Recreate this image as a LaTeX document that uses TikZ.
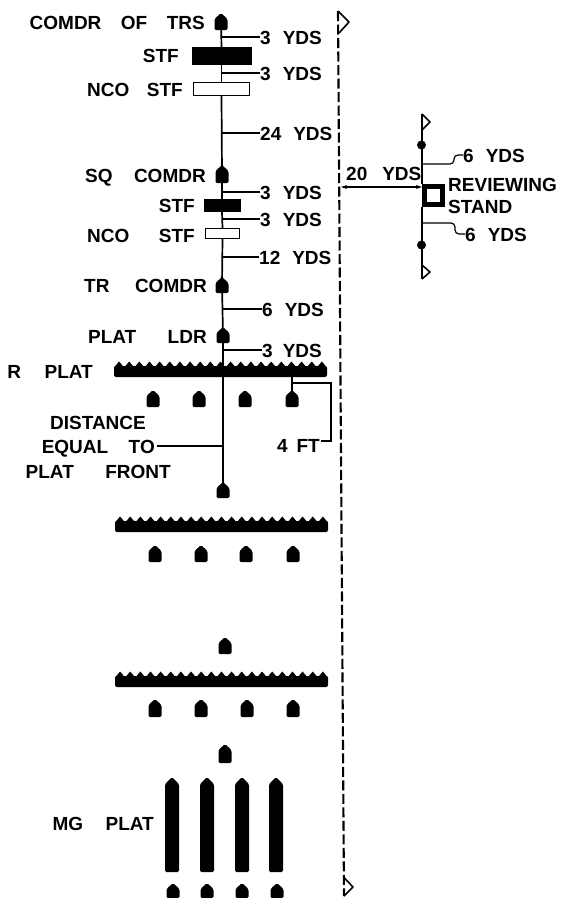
\documentclass[tikz,border=0pt]{standalone}
\usepackage{fontspec}
\setmainfont{Liberation Sans}
\usetikzlibrary{
    arrows.meta,
    positioning,
    calc
}
\newcommand{\gp}[1][0]{\hspace{\dimexpr9.2pt+#1pt\relax}}
\newcommand{\yg}{\hspace{12pt}}
% one man: house shape, #2 = x, #3 = top, #4 = bottom
\newcommand{\soldier}[4]{
  \fill[rounded corners=1.5pt] (#2-6.5,#4) -- (#2-6.5,#3+6) -- (#2,#3) -- (#2+6.5,#3+6) -- (#2+6.5,#4) -- cycle;
  \coordinate (#1) at (#2,{(#3+#4)/2});}
% line of men: #1 = x left, #2 = top
\newcommand{\platoon}[2]{
  \foreach \k in {0,...,20}
     {\fill (#1+\k*10.14,#2+6.5) -- ++(5.07,-6) -- ++(5.07,6) -- cycle;}
  \fill[rounded corners=2pt] (#1,#2+16) rectangle (#1+213,#2+5);}
\tikzset{
  lbl/.style={font=\bfseries\fontsize{19}{19}\selectfont,inner sep=0pt,text height=14pt,text depth=0pt},
  axisline/.style={line width=1.7pt},
  leader/.style={line width=1.2pt},
  pennant/.style={line width=1.6pt,line join=round},
  solidbox/.style={draw,fill=black,inner sep=0pt},
  openbox/.style={draw,fill=white,line width=1.2pt,inner sep=0pt}
}
\begin{document}
\begin{tikzpicture}[x=1pt,y=-1pt]
  \useasboundingbox (0,0) rectangle (562,898);
  % troop headquarters
  \soldier{comdr}{221}{13}{30}
  \node[solidbox,minimum width=59pt,minimum height=17pt] (stfa) at (221.5,55.5) {};
  \node[openbox,minimum width=56pt,minimum height=13pt] (ncoa) at (221.5,89) {};
  \soldier{sqc}{222}{165}{183}
  \node[solidbox,minimum width=36pt,minimum height=12pt] (stfb) at (222,205.5) {};
  \node[openbox,minimum width=34pt,minimum height=10pt] (ncob) at (222.5,233.5) {};
  \soldier{trc}{222}{277}{293}
  \soldier{ldr}{223}{327}{343}
  \node[lbl,anchor=east] (tcomdr) at (205,22) {COMDR\gp[5] OF\gp[5] TRS};
  \node[lbl,anchor=east] (tstfa) at (179,55) {STF};
  \node[lbl,anchor=east] (tncoa) at (183,89) {NCO\gp[3] STF};
  \node[lbl,anchor=east] (tsqc) at (206,175) {SQ\gp[7] COMDR};
  \node[lbl,anchor=east] (tstfb) at (195,205) {STF};
  \node[lbl,anchor=east] (tncob) at (195,235) {NCO\gp[15] STF};
  \node[lbl,anchor=east] (ttrc) at (207,285) {TR\gp[11] COMDR};
  \node[lbl,anchor=east] (tldr) at (207,336) {PLAT\gp[17] LDR};
  \node[lbl,anchor=east] (trp) at (93,371) {R\gp[9] PLAT};
  % yards
  \node[lbl,anchor=west] (ya) at (260,37) {3\yg YDS};
  \node[lbl,anchor=west] (yb) at (260,73) {3\yg YDS};
  \node[lbl,anchor=west] (yc) at (260,133) {24\yg YDS};
  \node[lbl,anchor=west] (yd) at (260,192) {3\yg YDS};
  \node[lbl,anchor=west] (ye) at (260,219) {3\yg YDS};
  \node[lbl,anchor=west] (yf) at (259,257) {12\yg YDS};
  \node[lbl,anchor=west] (yg) at (262,309) {6\yg YDS};
  \node[lbl,anchor=west] (yh) at (262,350) {3\hspace{10pt}YDS};
  % first platoon
  \platoon{114}{361}
  \foreach \i/\x in {a/153,b/199,c/245,d/292}
     {\soldier{ra\i}{\x}{390}{407}}
  \soldier{pc}{223}{482}{498}
  \coordinate (pf) at (223,377);
  \node[lbl,align=center] (tdist) at (98,422) {DISTANCE};
  \node[lbl,anchor=east] (tequal) at (155,446) {EQUAL\gp[6] TO};
  \node[lbl,anchor=east] (tfront) at (171,471) {PLAT\gp[17] FRONT};
  \node[lbl,anchor=east] (tft) at (320,445) {4\hspace{9pt}FT};
  \coordinate (ra) at (292,377);
  % second and third platoon
  \platoon{115}{516}
  \foreach \i/\x in {a/155,b/201,c/246,d/293}
     {\soldier{rb\i}{\x}{545}{562}}
  \soldier{sa}{225}{637}{654}
  \platoon{115}{671}
  \foreach \i/\x in {a/155,b/201,c/247,d/293}
     {\soldier{rc\i}{\x}{699}{717}}
  \soldier{sb}{225}{744}{763}
  % machine guns
  \foreach \i/\x in {a/172,b/207,c/242,d/276}
     {\fill[rounded corners=1.5pt] (\x-7,872) -- (\x-7,784) -- (\x,777) -- (\x+7,784) -- (\x+7,872) -- cycle;
      \coordinate (mg\i) at (\x,824);}
  \foreach \i/\x in {a/173,b/207,c/242,d/277}
     {\soldier{mh\i}{\x}{883}{898}}
  \node[lbl,anchor=east] (tmg) at (154,823) {MG\gp[8] PLAT};
  % axis
  \draw[axisline] (comdr) -- (stfa.north);
  \draw[axisline] (stfa.south) -- (ncoa.north);
  \draw[axisline] (ncoa.south) -- (sqc);
  \draw[axisline] (sqc) -- (stfb.north);
  \draw[axisline] (stfb.south) -- (ncob.north);
  \draw[axisline] (ncob.south) -- (trc);
  \draw[axisline] (trc) -- (ldr);
  \draw[axisline] (ldr) -- (pf);
  \draw[axisline] (pf) -- (pc);
  \draw[axisline] (ra) -- (rad);
  % leaders
  \foreach \n in {ya,yb,yc,yd,ye,yf}
     {\draw[leader] (\n.west) -- (\n.west -| sqc);}
  \foreach \n in {yg,yh}
     {\draw[leader] (\n.west) -- (\n.west -| ldr);}
  \draw[leader] (tequal.east) ++(2,0) -- (tequal.east -| pf);
  \coordinate (fa) at (292,383);
  \draw[leader] (fa) -- (331,383) -- (331,441) -- ($(tft.east)+(1,-4)$);
  % route of march
  \coordinate (rta) at (338,11);
  \coordinate (rtb) at (344,896);
  \draw[line width=2.1pt,dash pattern=on 10pt off 3.5pt] (rta) -- (rtb);
  \draw[pennant] (rta) -- (349,22) -- (339,33);
  \draw[pennant] (343.5,877) -- (353,887) -- (344,896);
  % reviewing stand
  \node[draw,line width=5pt,fill=white,minimum size=18pt,inner sep=0pt] (stand) at (433.5,195) {};
  \coordinate (sta) at (422,114);
  \coordinate (stb) at (422,279);
  \fill (421.5,145) circle (4.5);
  \fill (421.5,245) circle (4.5);
  \draw[axisline] (sta) -- (stand.north west);
  \draw[axisline] (stand.south west) -- (stb);
  \draw[pennant] (sta) -- (430,122) -- (422,130);
  \draw[pennant] (stb) -- (430,272) -- (422,265);
  \node[lbl,anchor=west] (six) at (463,155) {6\yg YDS};
  \node[lbl,anchor=west] (sev) at (465,234) {6\yg YDS};
  \node[lbl,anchor=west] (trev) at (448,184) {REVIEWING};
  \node[lbl,anchor=west] (tsta) at (448,206) {STAND};
  \node[lbl,anchor=west] (twen) at (346,173) {20\hspace{15pt}YDS};
  \coordinate (ua) at (422,164);
  \coordinate (ub) at (422,223);
  \draw[leader,rounded corners=4pt] (six.west) -- ++(-9,0) -- ++(0,9) -- (ua);
  \draw[leader,rounded corners=4pt] (sev.west) -- ++(-10,0) -- ++(0,-11) -- (ub);
  \coordinate (va) at (341,187);
  \coordinate (vb) at (422,187);
  \draw[leader,{Stealth[length=6pt,width=4pt]}-{Stealth[length=6pt,width=4pt]}] (va) -- (vb);
\end{tikzpicture}
\end{document}
